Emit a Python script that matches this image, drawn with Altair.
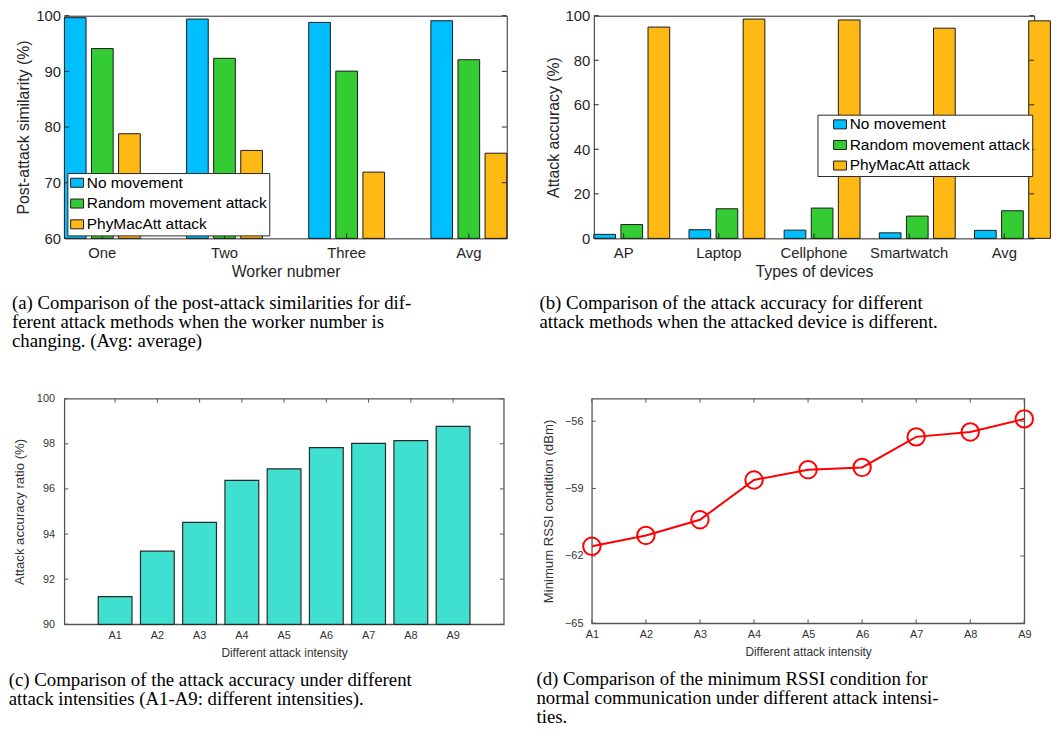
import altair as alt
import pandas as pd

SANS = "Liberation Sans"
SERIF = "Liberation Serif"

# ---------------- data ----------------
methods = ["No movement", "Random movement attack", "PhyMacAtt attack"]
bar_colors = ["#00BFFF", "#33CC33", "#FFB914"]

workers = ["One", "Two", "Three", "Avg"]
a_no = [99.65, 99.4, 98.8, 99.1]
a_rand = [94.1, 92.35, 90.05, 92.1]
a_phy = [78.8, 75.8, 71.9, 75.3]
a_ticks = [60, 70, 80, 90, 100]

devices = ["AP", "Laptop", "Cellphone", "Smartwatch", "Avg"]
b_no = [1.8, 3.9, 3.7, 2.5, 3.6]
b_rand = [6.2, 13.3, 13.6, 10.0, 12.4]
b_phy = [94.9, 98.5, 98.1, 94.4, 97.7]
b_ticks = [0, 20, 40, 60, 80, 100]

intensities = ["A1", "A2", "A3", "A4", "A5", "A6", "A7", "A8", "A9"]
c_vals = [91.23, 93.24, 94.52, 96.38, 96.89, 97.83, 98.02, 98.14, 98.77]
c_ticks = [90, 92, 94, 96, 98, 100]
d_vals = [-61.57, -61.09, -60.39, -58.62, -58.16, -58.06, -56.70, -56.48, -55.90]
d_ticks = [-65, -62, -59, -56]

cap_a = ["(a) Comparison of the post-attack similarities for dif-",
         "ferent attack methods when the worker number is",
         "changing. (Avg: average)"]
cap_b = ["(b) Comparison of the attack accuracy for different",
         "attack methods when the attacked device is different."]
cap_c = ["(c) Comparison of the attack accuracy under different",
         "attack intensities (A1-A9: different intensities)."]
cap_d = ["(d) Comparison of the minimum RSSI condition for",
         "normal communication under different attack intensi-",
         "ties."]


def long_df(cats, series):
    rows = []
    for m, vals in zip(methods, series):
        for c, v in zip(cats, vals):
            rows.append({"cat": c, "method": m, "val": v})
    return pd.DataFrame(rows)


def caption(lines, dx, offset):
    return alt.TitleParams(text=lines, orient="bottom", anchor="start", frame="group",
                           font=SERIF, fontSize=19, fontWeight="normal", color="black",
                           lineHeight=19.5, offset=offset, dx=dx)


LEG_SYMBOL = "M-1,-0.7H1V0.7H-1Z"
DARK = "#262626"


def grouped(df, cats, ticks, domain, xtitle, ytitle, legend, W, H, cap, cap_dx,
            pad_x, pad_off):
    yscale = alt.Scale(domain=domain, nice=False, zero=False)
    xscale = alt.Scale(paddingInner=pad_x, paddingOuter=0)
    xaxis = alt.Axis(title=xtitle, domain=False, ticks=False, grid=False, labelAngle=0,
                     labelFont=SANS, labelFontSize=15, labelColor=DARK, labelPadding=7,
                     titleFont=SANS, titleFontSize=16, titleFontWeight="normal",
                     titleColor=DARK, titlePadding=4)
    yaxis = alt.Axis(title=ytitle, values=ticks, domain=False, ticks=False, grid=False,
                     labelFlush=False, labelOverlap=False,
                     labelFont=SANS, labelFontSize=15, labelColor=DARK, labelPadding=4,
                     titleFont=SANS, titleFontSize=16, titleFontWeight="normal",
                     titleColor=DARK, titlePadding=4)
    bars = alt.Chart(df).mark_bar(stroke="#1a1a1a", strokeWidth=1, opacity=1).encode(
        x=alt.X("cat:N", sort=cats, scale=xscale, axis=xaxis),
        xOffset=alt.XOffset("method:N", sort=methods,
                            scale=alt.Scale(paddingInner=pad_off, paddingOuter=0)),
        y=alt.Y("val:Q", scale=yscale, axis=yaxis),
        y2=alt.datum(domain[0]),
        color=alt.Color("method:N", sort=methods,
                        scale=alt.Scale(domain=methods, range=bar_colors), legend=legend),
    )
    tdf = pd.DataFrame({"t": ticks})
    yl = alt.Chart(tdf).mark_rule(color=DARK, strokeWidth=1).encode(
        y=alt.Y("t:Q", scale=yscale, axis=yaxis), x=alt.value(0), x2=alt.value(5))
    yr = alt.Chart(tdf).mark_rule(color=DARK, strokeWidth=1).encode(
        y=alt.Y("t:Q", scale=yscale, axis=yaxis), x=alt.value(W - 5), x2=alt.value(W))
    cdf = pd.DataFrame({"cat": cats})
    xb = alt.Chart(cdf).mark_rule(color=DARK, strokeWidth=1).encode(
        x=alt.X("cat:N", sort=cats, scale=xscale, axis=xaxis), y=alt.value(H - 5), y2=alt.value(H))
    return alt.layer(bars, yl, yr, xb).properties(width=W, height=H,
                                                  title=caption(cap, cap_dx, 14))


leg_common = dict(title=None, fillColor="white", strokeColor=DARK, padding=2,
                  symbolType=LEG_SYMBOL, symbolSize=169, symbolStrokeColor="#1a1a1a",
                  symbolStrokeWidth=1, symbolOpacity=1, labelFont=SANS, labelFontSize=15.6,
                  labelColor="black", labelOffset=2, labelLimit=400)

leg_a = alt.Legend(orient="bottom-left", offset=3, rowPadding=4.0, **leg_common)
leg_b = alt.Legend(orient="none", legendX=226, legendY=100, rowPadding=3.8, symbolOffset=13,
                   **leg_common)

H1 = 225
chart_a = grouped(long_df(workers, [a_no, a_rand, a_phy]), workers, a_ticks, [60, 100],
                  "Worker nubmer", "Post-attack similarity (%)", leg_a, 447, H1, cap_a, -53,
                  0.379, 0.2)
chart_b = grouped(long_df(devices, [b_no, b_rand, b_phy]), devices, b_ticks, [0, 100],
                  "Types of devices", "Attack accuracy (%)", leg_b, 445, H1, cap_b, -55,
                  0.373, 0.185)

# ---------------- panels c, d ----------------
GREY = "#333333"
FRAME2 = "#555555"


def axis2(title, **kw):
    return alt.Axis(title=title, domain=False, ticks=False, grid=False, labelAngle=0,
                    labelFlush=False, labelOverlap=False,
                    labelFont=SANS, labelFontSize=11, labelColor=GREY,
                    titleFont=SANS, titleFontWeight="normal", titleColor=GREY, **kw)


Wc, Hc = 444, 228
df_c = pd.DataFrame({"lvl": intensities, "val": c_vals})
cy = alt.Scale(domain=[90, 100], nice=False, zero=False)
cx = alt.Scale(paddingInner=0.2, paddingOuter=0.8)
cx_axis = axis2("Different attack intensity", labelPadding=5, titlePadding=8, titleFontSize=12)
cy_axis = axis2("Attack accuracy ratio (%)", values=c_ticks, labelPadding=10, titlePadding=10,
                titleFontSize=13.3)
bars_c = alt.Chart(df_c).mark_bar(color="#40E0D0", stroke="#2a2a2a", strokeWidth=1.2, opacity=1).encode(
    x=alt.X("lvl:N", sort=intensities, scale=cx, axis=cx_axis),
    y=alt.Y("val:Q", scale=cy, axis=cy_axis),
    y2=alt.datum(90),
)
tc = pd.DataFrame({"t": c_ticks})
lc = pd.DataFrame({"lvl": intensities})
c_yl = alt.Chart(tc).mark_rule(color=FRAME2).encode(y=alt.Y("t:Q", scale=cy, axis=cy_axis),
                                                    x=alt.value(0), x2=alt.value(4))
c_yr = alt.Chart(tc).mark_rule(color=FRAME2).encode(y=alt.Y("t:Q", scale=cy, axis=cy_axis),
                                                    x=alt.value(Wc - 4), x2=alt.value(Wc))
c_xt = alt.Chart(lc).mark_rule(color=FRAME2).encode(
    x=alt.X("lvl:N", sort=intensities, scale=cx, axis=cx_axis), y=alt.value(0), y2=alt.value(4))
chart_c = alt.layer(bars_c, c_yl, c_yr, c_xt).properties(
    width=Wc, height=Hc, title=caption(cap_c, -56.3, 12),
    view=alt.ViewBackground(stroke=FRAME2, strokeWidth=1.3))

Wd, Hd = 437, 227
df_d = pd.DataFrame({"lvl": intensities, "val": d_vals})
dxs = alt.Scale(type="point", padding=0)
dys = alt.Scale(domain=[-65, -55], nice=False, zero=False)
dx_axis = axis2("Different attack intensity", labelPadding=5, titlePadding=8, titleFontSize=12)
dy_axis = axis2("Minimum RSSI condition (dBm)", values=d_ticks, labelPadding=9, titlePadding=9,
                titleFontSize=13.3)
xenc = alt.X("lvl:N", sort=intensities, scale=dxs, axis=dx_axis)
yenc = alt.Y("val:Q", scale=dys, axis=dy_axis)
line_d = alt.Chart(df_d).mark_line(color="#FF0000", strokeWidth=2).encode(x=xenc, y=yenc)
pts_d = alt.Chart(df_d).mark_point(shape="circle", filled=False, color="#FF0000", size=310,
                                   strokeWidth=2, opacity=1).encode(x=xenc, y=yenc)
td = pd.DataFrame({"t": d_ticks})
d_yl = alt.Chart(td).mark_rule(color=FRAME2).encode(y=alt.Y("t:Q", scale=dys, axis=dy_axis),
                                                    x=alt.value(0), x2=alt.value(4))
d_yr = alt.Chart(td).mark_rule(color=FRAME2).encode(y=alt.Y("t:Q", scale=dys, axis=dy_axis),
                                                    x=alt.value(Wd - 4), x2=alt.value(Wd))
d_xt = alt.Chart(lc).mark_rule(color=FRAME2).encode(x=xenc, y=alt.value(0), y2=alt.value(4))
d_xb = alt.Chart(lc).mark_rule(color=FRAME2).encode(x=xenc, y=alt.value(Hd - 4), y2=alt.value(Hd))
chart_d = alt.layer(d_yl, d_yr, d_xt, d_xb, line_d, pts_d).properties(
    width=Wd, height=Hd, title=caption(cap_d, -56, 12),
    view=alt.ViewBackground(stroke=FRAME2, strokeWidth=1.3))

row1 = alt.hconcat(chart_a, chart_b, spacing=88, bounds="flush")
row2 = alt.hconcat(chart_c, chart_d, spacing=89, bounds="flush")

chart = alt.vconcat(row1, row2, spacing=40).properties(
    padding={"left": 0, "right": 0, "top": -4, "bottom": -3}
).configure_view(stroke=DARK, strokeWidth=1)

chart.save("out.html", embed_options={"renderer": "svg", "actions": False})
